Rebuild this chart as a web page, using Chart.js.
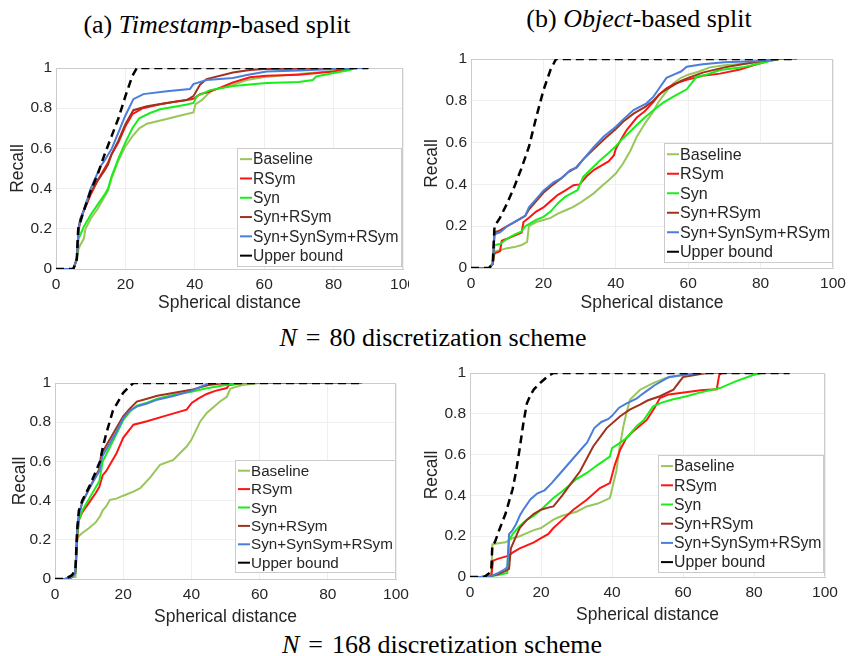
<!DOCTYPE html>
<html>
<head>
<meta charset="utf-8">
<script src="https://cdn.jsdelivr.net/npm/chart.js@4.4.1/dist/chart.umd.min.js"></script>
<style>
body { margin: 0; background: #fff; width: 849px; height: 656px; position: relative; overflow: hidden; }
canvas { position: absolute; }
.cap { position: absolute; font-family: "Liberation Serif", "Times New Roman", serif; font-size: 26px; line-height: 1; color: #000; white-space: nowrap; transform: translateX(-50%); }
.eq { margin: 0 9px; }
</style>
</head>
<body>
<div class="cap" style="left:217px;top:12px">(a) <i>Timestamp</i>-based split</div>
<div class="cap" style="left:639px;top:6px">(b) <i>Object</i>-based split</div>
<div class="cap" style="left:433px;top:325px"><i>N</i><span class="eq">=</span>80 discretization scheme</div>
<div class="cap" style="left:442px;top:632px"><i>N</i><span class="eq">=</span>168 discretization scheme</div>

<canvas id="c1" width="409" height="268" style="left:0px;top:50px"></canvas>
<canvas id="c2" width="429" height="278" style="left:420px;top:40px"></canvas>
<canvas id="c3" width="420" height="267" style="left:0px;top:365px"></canvas>
<canvas id="c4" width="429" height="270" style="left:420px;top:360px"></canvas>

<script>
// series names and colours
let names = ['Baseline', 'RSym', 'Syn', 'Syn+RSym', 'Syn+SynSym+RSym', 'Upper bound'];
let colors = ['#98c65a', '#ff1414', '#18ee18', '#a0321e', '#4a7ddc', '#000000'];
let xTicks = [0, 20, 40, 60, 80, 100];
let yTicks = [0, 0.2, 0.4, 0.6, 0.8, 1];
let yTickLabels = ['0', '0.2', '0.4', '0.6', '0.8', '1'];

// (a) timestamp split, N = 80   -- [spherical distance, recall]
let aBaseline = [[0,0],[5,0],[6,0.05],[6.5,0.1],[7,0.12],[8,0.15],[8.5,0.2],[10,0.25],[12,0.3],[14,0.36],[15,0.39],[16,0.45],[18,0.54],[20,0.61],[22,0.66],[24,0.7],[26.2,0.723],[31.9,0.746],[35,0.76],[39.6,0.779],[40.2,0.82],[42,0.84],[44,0.875],[45,0.89],[50,0.91],[55,0.94],[60,0.955],[70,0.97],[80,0.985],[85,1],[90,1]];
let aRSym = [[0,0],[5,0],[6,0.05],[6.5,0.19],[7,0.24],[8,0.29],[9,0.33],[10,0.37],[12,0.44],[14,0.5],[15,0.53],[16,0.57],[18,0.63],[20,0.71],[22,0.77],[25,0.8],[30,0.82],[35,0.835],[39,0.845],[40,0.85],[41.5,0.87],[44,0.88],[46.3,0.895],[51,0.928],[55.9,0.954],[60.7,0.962],[70,0.967],[80,0.983],[84.7,0.997],[86,1],[90,1]];
let aSyn = [[0,0],[5,0],[6,0.05],[6.5,0.15],[7,0.17],[8,0.21],[10,0.27],[12,0.32],[14,0.37],[15,0.4],[16,0.46],[18,0.55],[20,0.63],[22,0.7],[24,0.75],[27.1,0.776],[30,0.795],[35,0.81],[37.7,0.818],[39.6,0.826],[40.6,0.86],[44.4,0.89],[51,0.91],[60.7,0.925],[70,0.93],[74,0.94],[75,0.958],[80,0.975],[84.7,0.99],[86,1],[90,1]];
let aSynRSym = [[0,0],[5,0],[6,0.05],[6.5,0.2],[7,0.25],[8,0.29],[9,0.33],[10,0.38],[12,0.44],[14,0.49],[15,0.52],[16,0.57],[18,0.64],[20,0.72],[22.3,0.79],[26.2,0.81],[31.9,0.826],[37.7,0.84],[39.6,0.86],[41.5,0.917],[43.4,0.945],[51,0.978],[55.9,0.99],[60,0.995],[90,1]];
let aAll = [[0,0],[5,0],[6,0.05],[6.5,0.2],[7,0.24],[8.7,0.33],[10,0.4],[12.8,0.51],[14,0.54],[16.1,0.6],[18,0.68],[19.9,0.76],[22.3,0.845],[25.2,0.87],[31.9,0.884],[38.6,0.895],[39.6,0.92],[43.4,0.94],[51,0.95],[55,0.965],[60.7,0.983],[70,0.987],[80,0.995],[85,1],[90,1]];
let aUpper = [[0,0],[5,0],[6,0.05],[6.4,0.2],[8,0.29],[10,0.39],[12,0.47],[14,0.57],[16,0.66],[18,0.75],[20,0.86],[22,0.96],[23.3,1],[90,1]];

// (b) object split, N = 80
let bBaseline = [[0,0],[5,0],[6,0.02],[6.5,0.08],[8,0.085],[10,0.095],[12,0.1],[14,0.11],[15.5,0.125],[16,0.2],[18,0.22],[20,0.23],[22,0.24],[24,0.26],[26,0.275],[28,0.29],[30,0.31],[33.8,0.356],[36,0.39],[38,0.42],[40,0.452],[42,0.5],[44,0.56],[45.8,0.628],[48,0.69],[50,0.74],[52,0.8],[54,0.845],[55.9,0.883],[58,0.91],[60,0.925],[63,0.94],[66,0.96],[70,0.97],[80,0.985],[85,1],[90,1]];
let bRSym = [[0,0],[5,0],[6,0.02],[6.5,0.07],[8,0.08],[8.5,0.13],[10,0.14],[12,0.155],[14,0.17],[14.5,0.22],[16,0.24],[18,0.27],[20,0.29],[22,0.32],[24,0.35],[26,0.37],[28.3,0.396],[30,0.4],[32,0.44],[34,0.47],[36,0.49],[38,0.51],[39.5,0.54],[40,0.57],[41.6,0.62],[43,0.66],[45.8,0.72],[48,0.75],[50.4,0.795],[52,0.83],[54,0.86],[56,0.88],[59.6,0.9],[64,0.92],[68.8,0.93],[74.3,0.95],[78,0.97],[82,0.99],[85,1],[90,1]];
let bSyn = [[0,0],[5,0],[6,0.02],[6.5,0.11],[8,0.115],[10,0.14],[12,0.16],[14,0.175],[15,0.2],[16,0.21],[18,0.23],[20,0.245],[22,0.27],[24,0.31],[26,0.34],[28,0.36],[29.4,0.372],[31,0.436],[33,0.47],[35.7,0.516],[38,0.55],[40,0.583],[42,0.62],[45.8,0.684],[48,0.72],[50.4,0.755],[53,0.79],[55.9,0.82],[59.6,0.855],[62.3,0.915],[65,0.925],[68.8,0.947],[75,0.96],[80,0.98],[85,1],[90,1]];
let bSynRSym = [[0,0],[5,0],[6,0.02],[6.5,0.17],[8,0.18],[10,0.2],[12,0.22],[14,0.24],[15,0.25],[16,0.28],[18,0.32],[20,0.36],[22,0.39],[25,0.43],[27,0.46],[29,0.48],[31,0.52],[34,0.57],[37,0.62],[40,0.665],[42,0.7],[45,0.74],[48,0.77],[50,0.795],[52,0.83],[54,0.855],[56,0.875],[58,0.895],[60,0.91],[64,0.935],[70,0.96],[75,0.975],[80,0.99],[85,1],[90,1]];
let bAll = [[0,0],[5,0],[6,0.02],[6.5,0.16],[7,0.165],[8,0.17],[10,0.2],[12,0.22],[14,0.24],[15,0.25],[16,0.29],[18,0.33],[20,0.37],[22.8,0.41],[25,0.43],[27.4,0.468],[29.2,0.48],[31,0.52],[34,0.58],[36.6,0.628],[40,0.676],[42,0.71],[44.9,0.756],[48.5,0.788],[50.4,0.82],[52,0.86],[54,0.91],[56,0.925],[58,0.94],[59.6,0.963],[64,0.975],[70,0.985],[80,0.99],[85,1],[90,1]];
let bUpper = [[0,0],[5,0],[6,0.02],[6.5,0.2],[8,0.24],[10,0.31],[12,0.39],[14,0.48],[16,0.58],[18,0.72],[20,0.85],[22,0.95],[23.5,1],[90,1]];

// (c) timestamp split, N = 168
let cBaseline = [[0,0],[3,0],[5,0.01],[6,0.01],[6.5,0.2],[7,0.22],[8,0.235],[10,0.26],[12,0.29],[13.2,0.32],[14,0.35],[15,0.37],[16.1,0.404],[18,0.41],[20,0.425],[23,0.446],[25,0.463],[28,0.52],[30.8,0.583],[34.7,0.608],[38.6,0.676],[40,0.71],[42.6,0.804],[44.5,0.847],[48.4,0.906],[50.4,0.93],[51.4,0.97],[53,0.98],[55,0.99],[60,1],[90,1]];
let cRSym = [[0,0],[3,0],[5,0.01],[6,0.03],[6.5,0.2],[7,0.3],[8,0.34],[10,0.39],[12,0.44],[13,0.47],[13.5,0.5],[14,0.53],[15,0.55],[16,0.58],[18,0.64],[20,0.72],[23,0.787],[27,0.805],[32.8,0.835],[38.6,0.864],[40.1,0.898],[42,0.92],[44.5,0.944],[47,0.96],[50.4,0.974],[50.9,0.988],[55,1],[90,1]];
let cSyn = [[0,0],[3,0],[5,0.01],[6,0.03],[6.5,0.22],[7,0.3],[8,0.35],[10,0.41],[12,0.47],[13,0.5],[13.5,0.55],[14,0.6],[16,0.67],[18,0.74],[20,0.81],[22,0.855],[24,0.885],[27,0.9],[30,0.92],[35,0.94],[40,0.955],[45,0.975],[50,0.99],[55,1],[90,1]];
let cSynRSym = [[0,0],[3,0],[5,0.01],[6,0.04],[6.5,0.25],[7,0.33],[8,0.39],[10,0.46],[12,0.53],[13,0.56],[13.5,0.63],[14,0.65],[16,0.71],[18,0.77],[20,0.83],[22,0.87],[24,0.905],[27,0.92],[30,0.935],[35,0.95],[40,0.965],[45,0.99],[50,1],[90,1]];
let cAll = [[0,0],[3,0],[5,0.01],[6,0.04],[6.5,0.25],[7,0.33],[8,0.39],[10,0.46],[12,0.52],[13,0.55],[13.5,0.6],[14,0.63],[16,0.69],[18,0.75],[20,0.82],[22,0.86],[24,0.88],[27,0.895],[30,0.915],[35,0.935],[40,0.96],[44,0.99],[45,1],[90,1]];
let cUpper = [[0,0],[3,0],[5,0.02],[6,0.05],[6.5,0.25],[7,0.35],[8,0.4],[10.3,0.48],[12,0.55],[13.2,0.6],[14,0.67],[15,0.74],[16,0.8],[17,0.86],[18,0.89],[20,0.95],[22,0.985],[23,1],[90,1]];

// (d) object split, N = 168
let dBaseline = [[0,0],[4,0],[6,0.01],[6.3,0.16],[8,0.165],[10,0.17],[12,0.19],[14,0.2],[16,0.215],[18,0.23],[20,0.24],[23.5,0.281],[26,0.3],[28,0.31],[30,0.32],[32.9,0.346],[36,0.36],[39.4,0.387],[40,0.43],[41.3,0.526],[42,0.62],[43.2,0.738],[44,0.8],[45.1,0.87],[47.9,0.918],[51.6,0.95],[55,0.975],[60,0.99],[65,1],[90,1]];
let dRSym = [[0,0],[3,0],[6,0.005],[6.5,0.08],[8,0.09],[10,0.1],[11,0.105],[12,0.12],[14,0.14],[16,0.155],[18,0.17],[20,0.19],[22,0.21],[23.5,0.24],[26,0.28],[29.1,0.33],[32.9,0.379],[36.6,0.436],[39.4,0.46],[40.8,0.55],[42.3,0.624],[44,0.68],[46,0.714],[49.8,0.77],[52,0.83],[53.5,0.877],[56,0.895],[59.2,0.902],[65,0.915],[69.5,0.92],[70.2,0.99],[71,1],[90,1]];
let dSyn = [[0,0],[3,0],[6,0.005],[8,0.01],[10.5,0.02],[11,0.18],[12,0.21],[14,0.25],[16,0.28],[18,0.3],[20,0.33],[23.5,0.387],[26,0.42],[28,0.45],[30,0.48],[32.9,0.51],[36,0.55],[39.4,0.59],[40,0.632],[42,0.655],[44,0.68],[47,0.74],[49,0.77],[51.6,0.837],[54,0.855],[57,0.87],[61,0.886],[65,0.905],[70.4,0.926],[75,0.96],[79.8,0.99],[82,1],[90,1]];
let dSynRSym = [[0,0],[3,0],[6,0.005],[8,0.015],[10,0.03],[11,0.04],[11.5,0.14],[12,0.16],[13,0.2],[14,0.24],[16,0.28],[18,0.31],[20,0.33],[22,0.34],[23.5,0.346],[26,0.4],[28.2,0.453],[31,0.518],[34.7,0.64],[38.5,0.73],[42.3,0.788],[45,0.82],[47.9,0.845],[50,0.865],[53.5,0.886],[57.3,0.918],[58.7,0.95],[60,0.98],[65,0.995],[67,1],[90,1]];
let dAll = [[0,0],[3,0],[6,0.005],[8,0.02],[10,0.04],[10.5,0.05],[11,0.21],[12,0.23],[13,0.26],[14,0.3],[15,0.33],[17,0.38],[19,0.41],[21,0.425],[23,0.46],[25,0.5],[28,0.56],[31,0.62],[33,0.66],[35,0.73],[37,0.76],[39,0.775],[40,0.79],[42,0.83],[44,0.85],[47,0.875],[48,0.89],[50,0.915],[52,0.94],[54,0.96],[56,0.98],[60,0.99],[65,1],[90,1]];
let dUpper = [[0,0],[4,0],[5.5,0.02],[6,0.03],[6.3,0.16],[7,0.17],[8,0.22],[10,0.31],[12,0.43],[13,0.52],[14,0.63],[15,0.75],[16,0.85],[17,0.89],[18,0.92],[20,0.955],[22,0.985],[23.5,1],[90,1]];

const sans = '"Liberation Sans", Arial, Helvetica, sans-serif';
const textColor = '#262626';
const boxColor = '#cbcbcb';

// legend box inside the plot area, lower right corner
const insideLegend = {
    id: 'insideLegend',
    afterDraw(chart, args, opts) {
        const ctx = chart.ctx;
        const area = chart.chartArea;
        ctx.save();
        ctx.font = opts.size + 'px ' + sans;
        let w = 0;
        chart.data.datasets.forEach(ds => { w = Math.max(w, ctx.measureText(ds.label).width); });
        const boxW = Math.round(16 + w + 3);
        const boxH = Math.round(chart.data.datasets.length * opts.row + 3);
        const x0 = Math.round(area.right - opts.right - boxW);
        const y0 = Math.round(area.bottom - opts.bottom - boxH);
        ctx.fillStyle = '#fff';
        ctx.fillRect(x0, y0, boxW, boxH);
        ctx.strokeStyle = boxColor;
        ctx.lineWidth = 1;
        ctx.strokeRect(x0 + 0.5, y0 + 0.5, boxW - 1, boxH - 1);
        chart.data.datasets.forEach((ds, i) => {
            const cy = y0 + 1.5 + opts.row * (i + 0.5);
            ctx.strokeStyle = ds.borderColor;
            ctx.lineWidth = 2;
            ctx.beginPath();
            ctx.moveTo(x0 + 3, cy);
            ctx.lineTo(x0 + 15, cy);
            ctx.stroke();
            ctx.fillStyle = textColor;
            ctx.textBaseline = 'middle';
            ctx.fillText(ds.label, x0 + 16, cy + 1);
        });
        ctx.restore();
    }
};

// top and right edges of the axes box
const frame = {
    id: 'frame',
    beforeDatasetsDraw(chart) {
        const ctx = chart.ctx;
        const a = chart.chartArea;
        ctx.save();
        ctx.strokeStyle = boxColor;
        ctx.lineWidth = 1;
        ctx.beginPath();
        ctx.moveTo(Math.round(a.left) + 0.5, Math.round(a.top) + 0.5);
        ctx.lineTo(Math.round(a.right) - 0.5, Math.round(a.top) + 0.5);
        ctx.lineTo(Math.round(a.right) - 0.5, Math.round(a.bottom) - 0.5);
        ctx.stroke();
        ctx.restore();
    }
};

function drawPanel(id, series, p) {
    const datasets = series.map((s, i) => ({
        label: names[i],
        data: s.map(pt => ({ x: pt[0], y: pt[1] })),
        borderColor: colors[i],
        backgroundColor: colors[i],
        borderWidth: i === 5 ? 2.5 : 2,
        borderDash: i === 5 ? [8, 5] : [],
        pointRadius: 0,
        tension: 0,
        fill: false,
        order: 5 - i
    }));
    new Chart(document.getElementById(id), {
        type: 'line',
        data: { datasets: datasets },
        plugins: [frame, insideLegend],
        options: {
            responsive: false,
            animation: false,
            events: [],
            layout: { padding: { top: p.padTop, right: p.padRight, left: 0, bottom: 0 } },
            plugins: {
                legend: { display: false },
                tooltip: { enabled: false },
                insideLegend: { size: p.legendSize, row: p.row, right: p.legRight, bottom: p.legBottom }
            },
            scales: {
                x: {
                    type: 'linear', min: 0, max: 100,
                    afterBuildTicks: s => { s.ticks = xTicks.map(v => ({ value: v })); },
                    afterFit: s => { s.height = p.xH; s.paddingLeft = 0; s.paddingRight = 0; },
                    ticks: { autoSkip: false, maxRotation: 0, padding: 6, color: textColor, font: { family: sans, size: 15.5 } },
                    grid: { color: '#efefef', drawTicks: false },
                    border: { color: boxColor },
                    title: { display: true, text: 'Spherical distance', color: textColor, font: { family: sans, size: 17.5 }, padding: { top: 0, bottom: 4 } }
                },
                y: {
                    type: 'linear', min: 0, max: 1,
                    afterBuildTicks: s => { s.ticks = yTicks.map(v => ({ value: v })); },
                    afterFit: s => { s.width = p.yW; s.paddingTop = 0; s.paddingBottom = 0; },
                    ticks: { autoSkip: false, padding: 4, color: textColor, font: { family: sans, size: 15.5 },
                        callback: (v, i) => yTickLabels[i] },
                    grid: { color: '#efefef', drawTicks: false },
                    border: { color: boxColor },
                    title: { display: true, text: 'Recall', color: textColor, font: { family: sans, size: 17.5 }, padding: { top: p.yTitlePad, bottom: 0 } }
                }
            }
        }
    });
}

drawPanel('c1', [aBaseline, aRSym, aSyn, aSynRSym, aAll, aUpper],
    { padTop: 18, padRight: 6, yW: 56, xH: 49, yTitlePad: 7.5, legendSize: 15.6, row: 19.3, legRight: 1, legBottom: 2 });
drawPanel('c2', [bBaseline, bRSym, bSyn, bSynRSym, bAll, bUpper],
    { padTop: 19, padRight: 16, yW: 51, xH: 50, yTitlePad: 1.2, legendSize: 16.1, row: 19.5, legRight: 0, legBottom: 5 });
drawPanel('c3', [cBaseline, cRSym, cSyn, cSynRSym, cAll, cUpper],
    { padTop: 18, padRight: 24, yW: 55, xH: 53, yTitlePad: 9.5, legendSize: 15.2, row: 18.4, legRight: 0, legBottom: 6 });
drawPanel('c4', [dBaseline, dRSym, dSyn, dSynRSym, dAll, dUpper],
    { padTop: 13, padRight: 24, yW: 50, xH: 53, yTitlePad: 2, legendSize: 15.8, row: 19.2, legRight: 1, legBottom: 4 });
</script>
</body>
</html>
